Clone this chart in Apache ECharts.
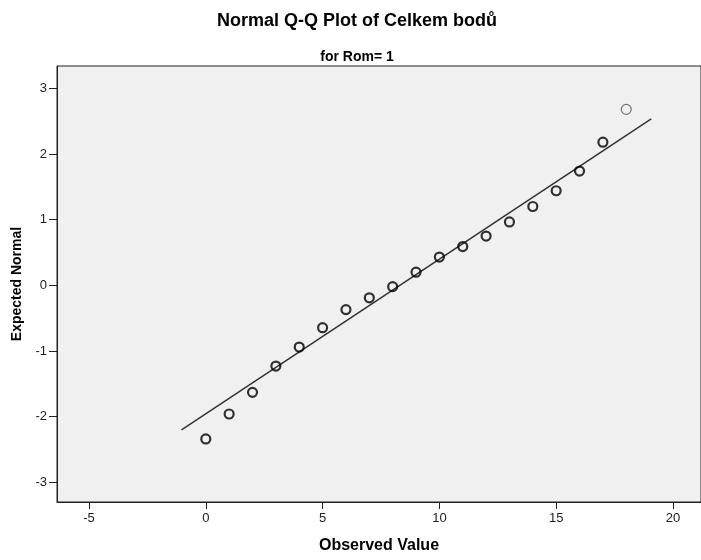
<!DOCTYPE html>
<html>
<head>
<meta charset="utf-8">
<script src="https://cdn.jsdelivr.net/npm/echarts@6/dist/echarts.min.js"></script>
<style>
  html, body { margin: 0; padding: 0; background: #fff; }
  #chart { width: 701px; height: 560px; }
</style>
</head>
<body>
<div id="chart"></div>
<script>
// observed values and their expected normal scores
const observed = [0, 1, 2, 3, 4, 5, 6, 7, 8, 9, 10, 11, 12, 13, 14, 15, 16, 17, 18];
const expected = [-2.34, -1.96, -1.63, -1.23, -0.94, -0.645, -0.37, -0.19, -0.02, 0.2, 0.43, 0.59, 0.75, 0.965, 1.2, 1.44, 1.74, 2.18, 2.68];
// reference line end points
const lineX = [-1.04, 19.07];
const lineY = [-2.2, 2.535];
const xTicks = [-5, 0, 5, 10, 15, 20];
const yTicks = [-3, -2, -1, 0, 1, 2, 3];

const font = "'Liberation Sans', Arial, sans-serif";

const chart = echarts.init(document.getElementById("chart"), null, { renderer: "canvas" });

// the last point is drawn lighter than the rest
const mainPts = observed.slice(0, -1).map((x, i) => [x, expected[i]]);
const lastPts = [[observed[observed.length - 1], expected[expected.length - 1]]];

const option = {
  backgroundColor: "#fff",
  animation: false,
  title: [
    {
      text: "Normal Q-Q Plot of Celkem bodů",
      left: 352,
      textAlign: "center",
      top: 7,
      textStyle: { fontFamily: font, fontSize: 18, fontWeight: "bold", color: "#000" }
    },
    {
      text: "for Rom= 1",
      left: 352,
      textAlign: "center",
      top: 45,
      textStyle: { fontFamily: font, fontSize: 14, fontWeight: "bold", color: "#000" }
    }
  ],
  grid: {
    left: 57,
    right: -3,
    top: 66,
    bottom: 58,
    show: true,
    backgroundColor: "#f0f0f0",
    borderColor: "#222",
    borderWidth: 1
  },
  xAxis: {
    type: "value",
    min: -6.37,
    max: 21.2,
    name: "Observed Value",
    nameLocation: "middle",
    nameGap: 36,
    nameTextStyle: { fontFamily: font, fontSize: 16, fontWeight: "bold", color: "#000" },
    axisLine: { show: true, onZero: false, lineStyle: { color: "#222", width: 1 } },
    axisTick: { show: true, customValues: xTicks, length: 7, lineStyle: { color: "#222" } },
    axisLabel: { customValues: xTicks, fontFamily: font, fontSize: 13, color: "#222", margin: 10 },
    splitLine: { show: false }
  },
  yAxis: {
    type: "value",
    min: -3.3,
    max: 3.34,
    name: "Expected Normal",
    nameLocation: "middle",
    nameGap: 33,
    nameRotate: 90,
    nameTextStyle: { fontFamily: font, fontSize: 14, fontWeight: "bold", color: "#000" },
    axisLine: { show: true, onZero: false, lineStyle: { color: "#222", width: 1 } },
    axisTick: { show: true, customValues: yTicks, length: 8, lineStyle: { color: "#222" } },
    axisLabel: { customValues: yTicks, fontFamily: font, fontSize: 13, color: "#222", margin: 10 },
    splitLine: { show: false }
  },
  series: [
    {
      type: "line",
      data: [[lineX[0], lineY[0]], [lineX[1], lineY[1]]],
      symbol: "none",
      lineStyle: { color: "#333", width: 1.5 },
      silent: true,
      z: 1
    },
    {
      type: "scatter",
      data: mainPts,
      symbol: "circle",
      symbolSize: 9,
      itemStyle: { color: "rgba(0,0,0,0)", borderColor: "#000", borderWidth: 2.2 },
      z: 2
    },
    {
      type: "scatter",
      data: lastPts,
      symbol: "circle",
      symbolSize: 10,
      itemStyle: { color: "rgba(0,0,0,0)", borderColor: "#555", borderWidth: 1.2 },
      z: 2
    }
  ]
};

chart.setOption(option);
</script>
</body>
</html>
